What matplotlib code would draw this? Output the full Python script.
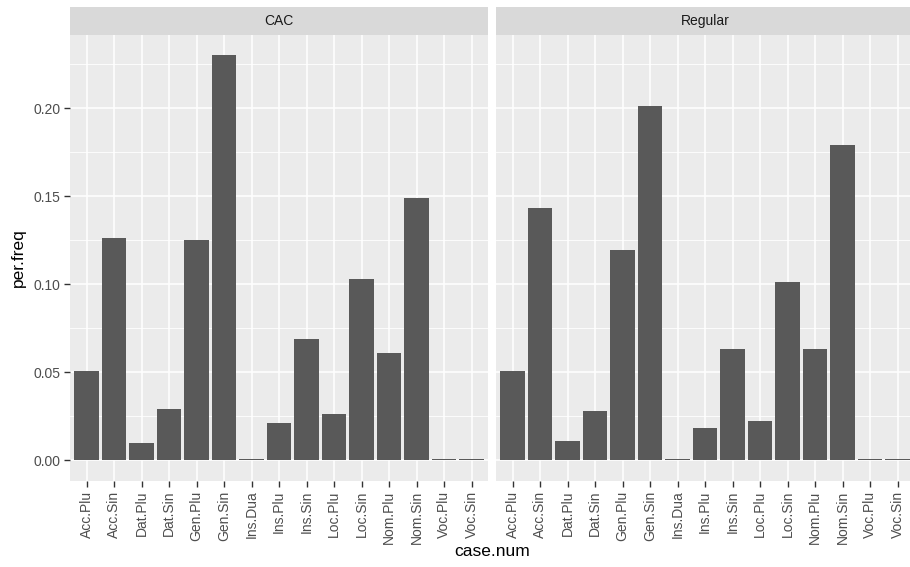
import matplotlib
matplotlib.use("Agg")
import matplotlib.pyplot as plt
import numpy as np

categories = ["Acc.Plu", "Acc.Sin", "Dat.Plu", "Dat.Sin", "Gen.Plu", "Gen.Sin",
              "Ins.Dua", "Ins.Plu", "Ins.Sin", "Loc.Plu", "Loc.Sin", "Nom.Plu",
              "Nom.Sin", "Voc.Plu", "Voc.Sin"]
cac_values = [0.051, 0.126, 0.0097, 0.029, 0.125, 0.230,
              0.0008, 0.021, 0.0688, 0.0261, 0.1028, 0.0608,
              0.1489, 0.0008, 0.0008]
regular_values = [0.051, 0.1432, 0.0108, 0.0278, 0.1193, 0.2011,
                  0.0008, 0.0182, 0.0631, 0.0222, 0.1011, 0.0631,
                  0.179, 0.0008, 0.0008]
facets = ["CAC", "Regular"]
y_ticks = [0.00, 0.05, 0.10, 0.15, 0.20]
y_tick_labels = ["0.00", "0.05", "0.10", "0.15", "0.20"]
x_title = "case.num"
y_title = "per.freq"

plt.rcParams['font.family'] = ['Liberation Sans', 'DejaVu Sans']

W, H = 910, 567
fig = plt.figure(figsize=(W / 100, H / 100), dpi=100)
fig.patch.set_facecolor("white")

panel_top = 35
panel_bot = 480.7
strip_top = 7
panel_w = 418
lefts = [70, 496]

all_vals = cac_values + regular_values
ymax = max(all_vals)
pad = ymax * 0.05
ylo, yhi = -pad, ymax + pad
x = np.arange(len(categories))
n = len(categories)

for i, (name, vals) in enumerate(zip(facets, [cac_values, regular_values])):
    l = lefts[i]
    ax = fig.add_axes([l / W, 1 - panel_bot / H, panel_w / W, (panel_bot - panel_top) / H])
    ax.set_facecolor("#EBEBEB")
    ax.set_xlim(-0.6, n - 1 + 0.6)
    ax.set_ylim(ylo, yhi)
    # grid
    for yv in np.arange(0.025, yhi, 0.05):
        ax.axhline(yv, color="white", lw=0.6, zorder=0.5)
    for yv in y_ticks:
        ax.axhline(yv, color="white", lw=1.15, zorder=0.6)
    for xv in x:
        ax.axvline(xv, color="white", lw=1.15, zorder=0.6)
    ax.bar(x, vals, width=0.9, color="#595959", zorder=2)
    for s in ax.spines.values():
        s.set_visible(False)
    ax.set_xticks(x)
    ax.set_xticklabels(categories, rotation=90, fontsize=10, color="#4D4D4D")
    ax.tick_params(axis="x", length=4, width=1.0, color="#333333", pad=3)
    ax.set_yticks(y_ticks)
    if i == 0:
        ax.set_yticklabels(y_tick_labels, fontsize=10, color="#4D4D4D")
        ax.tick_params(axis="y", length=4, width=1.0, color="#333333", pad=3)
    else:
        ax.set_yticklabels([])
        ax.tick_params(axis="y", length=0)
    # strip
    sax = fig.add_axes([l / W, 1 - panel_top / H, panel_w / W, (panel_top - strip_top) / H])
    sax.set_facecolor("#D9D9D9")
    sax.set_xticks([]); sax.set_yticks([])
    for s in sax.spines.values():
        s.set_visible(False)
    sax.text(0.5, 0.5, name, ha="center", va="center", fontsize=10, color="#1A1A1A",
             transform=sax.transAxes)

fig.text((70 + 496 + panel_w) / 2 / W, 1 - 552 / H, x_title, ha="center", va="center",
         fontsize=12.5, color="black")
fig.text(18 / W, 1 - (panel_top + panel_bot) / 2 / H, y_title, ha="center", va="center",
         rotation=90, fontsize=12.5, color="black")

fig.savefig("out.png", dpi=100, facecolor="white")
